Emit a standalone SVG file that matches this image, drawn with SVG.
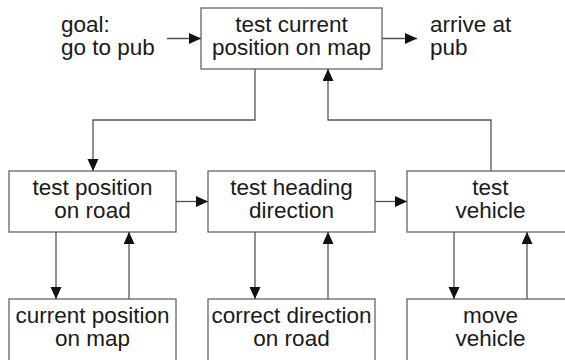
<svg xmlns="http://www.w3.org/2000/svg" width="565" height="360" viewBox="0 0 565 360">
<style>
.box{fill:#fff;stroke:#666;stroke-width:1.3}
.lbl{font-family:"Liberation Sans",Arial,sans-serif;font-size:22.5px;fill:#1a1a1a}
.c{text-anchor:middle}
.conn{fill:none;stroke:#555;stroke-width:1.3;marker-end:url(#ah)}
</style>
<defs>
<marker id="ah" markerUnits="userSpaceOnUse" markerWidth="13" markerHeight="12" refX="12" refY="5.5" orient="auto">
<path d="M0,0 L12,5.5 L0,11 Z" fill="#111"/>
</marker>
</defs>
<rect width="565" height="360" fill="#fff"/>
<g id="goal"><text class="lbl" x="61" y="32">goal:</text><text class="lbl" x="61" y="55">go to pub</text></g>
<g id="arrive"><text class="lbl" x="430" y="32">arrive at</text><text class="lbl" x="430" y="55">pub</text></g>
<g id="test-current"><rect class="box" x="201" y="8" width="181" height="61"/><text class="lbl c" x="291.5" y="32">test current</text><text class="lbl c" x="291.5" y="55">position on map</text></g>
<g id="test-position"><rect class="box" x="9" y="171" width="167" height="61"/><text class="lbl c" x="92.5" y="195">test position</text><text class="lbl c" x="92.5" y="218">on road</text></g>
<g id="test-heading"><rect class="box" x="208" y="171" width="167" height="61"/><text class="lbl c" x="291.5" y="195">test heading</text><text class="lbl c" x="291.5" y="218">direction</text></g>
<g id="test-vehicle"><rect class="box" x="407" y="171" width="167" height="61"/><text class="lbl c" x="490.5" y="195">test</text><text class="lbl c" x="490.5" y="218">vehicle</text></g>
<g id="current-position"><rect class="box" x="9" y="299" width="167" height="65"/><text class="lbl c" x="92.5" y="323">current position</text><text class="lbl c" x="92.5" y="346">on map</text></g>
<g id="correct-direction"><rect class="box" x="208" y="299" width="167" height="65"/><text class="lbl c" x="291.5" y="323">correct direction</text><text class="lbl c" x="291.5" y="346">on road</text></g>
<g id="move-vehicle"><rect class="box" x="407" y="299" width="167" height="65"/><text class="lbl c" x="490.5" y="323">move</text><text class="lbl c" x="490.5" y="346">vehicle</text></g>
<g id="connectors">
<path class="conn" d="M167 38.5 H201"/>
<path class="conn" d="M382 38.5 H417"/>
<path class="conn" d="M255 69 V120 H93 V171"/>
<path class="conn" d="M491 171 V120 H328 V69"/>
<path class="conn" d="M176 201.5 H208"/>
<path class="conn" d="M375 201.5 H407"/>
<path class="conn" d="M56 232 V299"/>
<path class="conn" d="M129 299 V232"/>
<path class="conn" d="M255 232 V299"/>
<path class="conn" d="M328 299 V232"/>
<path class="conn" d="M454 232 V299"/>
<path class="conn" d="M527 299 V232"/>
</g>
</svg>
